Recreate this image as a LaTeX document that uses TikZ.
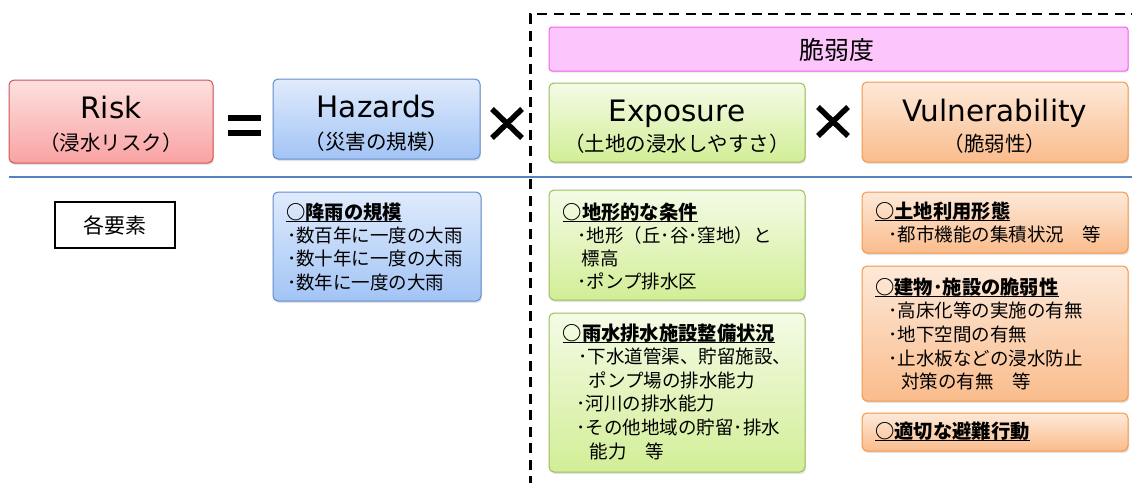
\documentclass[tikz,border=0pt]{standalone}
\usepackage{fontspec}
\setmainfont{Noto Sans CJK JP}
\newfontfamily\latfont{DejaVu Sans}
\usetikzlibrary{shadows}
\definecolor{riskT}{RGB}{253,224,224}
\definecolor{riskB}{RGB}{250,162,162}
\definecolor{riskD}{RGB}{205,85,85}
\definecolor{hazT}{RGB}{224,235,252}
\definecolor{hazB}{RGB}{162,196,245}
\definecolor{hazD}{RGB}{95,140,205}
\definecolor{expT}{RGB}{244,251,230}
\definecolor{expB}{RGB}{210,238,150}
\definecolor{expD}{RGB}{155,190,90}
\definecolor{vulT}{RGB}{253,233,217}
\definecolor{vulB}{RGB}{250,188,140}
\definecolor{vulD}{RGB}{245,150,70}
\definecolor{pinkF}{RGB}{252,198,252}
\definecolor{pinkD}{RGB}{238,100,238}
\definecolor{sepblue}{RGB}{85,130,190}
\newsavebox\ulbox
\newcommand\uln[1]{\sbox\ulbox{\fontsize{19.3}{23.5}\selectfont\bfseries #1}\rlap{\rule[-2.5pt]{\wd\ulbox}{1pt}}\usebox\ulbox}
\newcommand\jplines[2]{\vtop{\baselineskip=#1\lineskiplimit=-100pt\lineskip=0pt\halign{##\hfil\cr#2\crcr}}}
\tikzset{
  box/.style={rounded corners=5pt, line width=1pt, inner sep=0pt,
    drop shadow={shadow xshift=1pt, shadow yshift=-2pt, opacity=0.22}},
  riskbox/.style={box, draw=riskD, top color=riskT, bottom color=riskB},
  hazbox/.style={box, draw=hazD, top color=hazT, bottom color=hazB},
  expbox/.style={box, draw=expD, top color=expT, bottom color=expB},
  vulbox/.style={box, draw=vulD, top color=vulT, bottom color=vulB},
  pinkbox/.style={rounded corners=3pt, line width=1pt, inner sep=0pt, draw=pinkD, fill=pinkF,
    drop shadow={shadow xshift=1pt, shadow yshift=-1.5pt, opacity=0.18}},
  ttl/.style={font=\latfont\fontsize{29.5}{30}\selectfont, inner sep=0pt, anchor=base},
  sub/.style={font=\fontsize{20.5}{22}\selectfont, inner sep=0pt, anchor=base},
  body/.style={font=\fontsize{18.5}{23.5}\selectfont, inner sep=0pt, anchor=base west},
  opsym/.style={line width=5.5pt}
}
\begin{document}
\begin{tikzpicture}[x=1pt,y=-1pt]
\useasboundingbox (0,0) rectangle (1132,482);
% separators
\coordinate (dashB) at (530.5,486);
\coordinate (dashC) at (530.5,14);
\coordinate (dashR) at (1136,14);
\draw[line width=2.6pt, dash pattern=on 10pt off 6.5pt] (dashB) -- (dashC) -- (dashR);
\coordinate (lineL) at (9,177);
\coordinate (lineR) at (1132,177);
\draw[sepblue, line width=1.3pt] (lineL) -- (lineR);
% top boxes
\node (risk) [riskbox, minimum width=204pt, minimum height=83pt] at (111,121.5) {};
\node (haz) [hazbox, minimum width=207pt, minimum height=80pt] at (376.5,119) {};
\node (zei) [pinkbox, minimum width=579pt, minimum height=44pt] at (838.5,49) {};
\node (exp) [expbox, minimum width=256pt, minimum height=79pt] at (677,122.5) {};
\node (vul) [vulbox, minimum width=266pt, minimum height=80pt] at (995,122) {};
\node (riskT) [ttl] at (111,118) {Risk};
\node (riskS) [sub] at (111,150.5) {（浸水リスク）};
\node (hazT) [ttl] at (376.5,117) {Hazards};
\node (hazS) [sub] at (376.5,149.5) {（災害の規模）};
\node (expT) [ttl] at (677,121) {Exposure};
\node (expS) [sub] at (677,151) {（土地の浸水しやすさ）};
\node (vulT) [ttl] at (995,121) {Vulnerability};
\node (vulS) [sub] at (995,151) {（脆弱性）};
\node (zeiT) [font=\fontsize{25}{26}\selectfont, inner sep=0pt, anchor=base] at (836.5,59) {脆弱度};
% operators
\fill (228,115) rectangle (261,121);
\fill (228,129.5) rectangle (261,135.5);
\draw[opsym] (492,109) -- (522,138);
\draw[opsym] (522,109) -- (492,138);
\draw[opsym] (818,107) -- (848,136);
\draw[opsym] (848,107) -- (818,136);
% element label
\node (elem) [draw=black, line width=1.2pt, fill=white, minimum width=120pt, minimum height=46pt, inner sep=0pt, font=\fontsize{21}{22}\selectfont] at (115,225) {各要素};
% detail boxes
\node (hazD) [hazbox, minimum width=208pt, minimum height=109pt] at (377,246.5) {};
\node (geo1) [expbox, minimum width=256pt, minimum height=110pt] at (677,245) {};
\node (geo2) [expbox, minimum width=256pt, minimum height=159pt] at (677,392.5) {};
\node (or1) [vulbox, minimum width=266pt, minimum height=61pt] at (995,222.5) {};
\node (or2) [vulbox, minimum width=266pt, minimum height=135pt] at (995,333.5) {};
\node (or3) [vulbox, minimum width=266pt, minimum height=38pt] at (995,432) {};
\node (hazDt) [body] at (286,219) {\jplines{23.4pt}{\uln{○降雨の規模}\cr
\hspace{1pt}･数百年に一度の大雨\cr
\hspace{1pt}･数十年に一度の大雨\cr
\hspace{1pt}･数年に一度の大雨}};
\node (geo1t) [body] at (562.5,219) {\jplines{23.3pt}{\uln{○地形的な条件}\cr
\hspace{15pt}･地形（丘･谷･窪地）と\cr
\hspace{19pt}標高\cr
\hspace{15pt}･ポンプ排水区}};
\node (geo2t) [body] at (562.5,340) {\jplines{23.6pt}{\uln{○雨水排水施設整備状況}\cr
\hspace{16pt}･下水道管渠、貯留施設、\cr
\hspace{26pt}ポンプ場の排水能力\cr
\hspace{14pt}･河川の排水能力\cr
\hspace{14pt}･その他地域の貯留･排水\cr
\hspace{27pt}能力　等}};
\node (or1t) [body] at (875,218) {\jplines{23.5pt}{\uln{○土地利用形態}\cr
\hspace{13.5pt}･都市機能の集積状況　等}};
\node (or2t) [body] at (875,294) {\jplines{23.7pt}{\uln{○建物･施設の脆弱性}\cr
\hspace{13.5pt}･高床化等の実施の有無\cr
\hspace{13.5pt}･地下空間の有無\cr
\hspace{13.5pt}･止水板などの浸水防止\cr
\hspace{26pt}対策の有無　等}};
\node (or3t) [body] at (875,438) {\uln{○適切な避難行動}};
\end{tikzpicture}
\end{document}
